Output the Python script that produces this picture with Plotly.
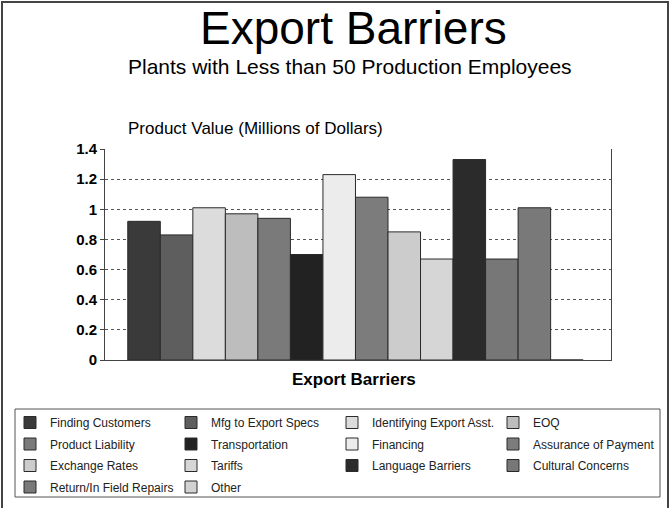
import plotly.graph_objects as go

categories = ["Export Barriers"]
series_names = [
    "Finding Customers", "Mfg to Export Specs", "Identifying Export Asst.", "EOQ",
    "Product Liability", "Transportation", "Financing", "Assurance of Payment",
    "Exchange Rates", "Tariffs", "Language Barriers", "Cultural Concerns",
    "Return/In Field Repairs", "Other",
]
series_values = [0.92, 0.83, 1.01, 0.97, 0.94, 0.70, 1.23, 1.08,
                 0.85, 0.67, 1.33, 0.67, 1.01, 0.0]
series_colors = ["#3a3a3a", "#5e5e5e", "#dcdcdc", "#bdbdbd", "#7a7a7a", "#222222",
                 "#ececec", "#7c7c7c", "#cccccc", "#d6d6d6", "#2b2b2b", "#777777",
                 "#797979", "#d2d2d2"]
y_ticks = [0, 0.2, 0.4, 0.6, 0.8, 1, 1.2, 1.4]
y_tick_labels = ["0", "0.2", "0.4", "0.6", "0.8", "1", "1.2", "1.4"]

FONT = "Liberation Sans, Arial, sans-serif"
W, H = 670, 508
L, R, T, B = 105, 59, 149, 148
pw, ph = W - L - R, H - T - B
N_LEGEND_COLS = 4
LEGEND_COL_X = [10, 171, 332, 493]   # pixel left edge of each legend column
LEGEND_TOP = 408

def px_x(x):
    return (x - L) / pw

def px_y(y):
    return (H - B - y) / ph

def legend_id(k):
    return "legend" if k == 0 else f"legend{k + 1}"

fig = go.Figure()
for i, (name, val, col) in enumerate(zip(series_names, series_values, series_colors)):
    fig.add_trace(go.Bar(
        x=categories, y=[val], name=name,
        legend=legend_id(i % N_LEGEND_COLS), legendgroup=name,
        marker=dict(color=col, line=dict(color="#2a2a2a", width=1)),
    ))

legend_layouts = {}
for k in range(N_LEGEND_COLS):
    legend_layouts[legend_id(k)] = dict(
        orientation="v", x=px_x(LEGEND_COL_X[k]), y=px_y(LEGEND_TOP),
        xanchor="left", yanchor="top",
        bgcolor="rgba(0,0,0,0)", borderwidth=0,
        font=dict(size=12, family=FONT, color="#222222"),
        traceorder="grouped", itemwidth=30, tracegroupgap=2.5,
    )

fig.update_layout(
    width=W, height=H,
    margin=dict(l=L, r=R, t=T, b=B, autoexpand=False),
    paper_bgcolor="white", plot_bgcolor="white",
    barmode="group", bargap=0.1, bargroupgap=0,
    font=dict(family=FONT, color="black"),
    showlegend=True,
    **legend_layouts,
    xaxis=dict(
        range=[-0.495, 0.505], showticklabels=False, ticks="",
        showline=True, linecolor="#444444", linewidth=1, showgrid=False,
        fixedrange=True,
    ),
    yaxis=dict(
        range=[0, 1.4], tickvals=y_ticks, ticktext=y_tick_labels,
        tickfont=dict(size=15, family=FONT, color="black", weight="bold"),
        ticks="outside", ticklen=4, tickcolor="#444444",
        showline=True, linecolor="#444444", linewidth=1, mirror=True,
        showgrid=True, gridcolor="#555555", griddash="dot", gridwidth=1,
        zeroline=False,
    ),
    shapes=[
        dict(type="rect", xref="paper", yref="paper",
             x0=px_x(2), x1=px_x(668), y0=px_y(515), y1=px_y(2),
             line=dict(color="#444444", width=2), fillcolor="rgba(0,0,0,0)", layer="below"),
        dict(type="rect", xref="paper", yref="paper",
             x0=px_x(15), x1=px_x(660), y0=px_y(497), y1=px_y(409),
             line=dict(color="#555555", width=1), fillcolor="rgba(0,0,0,0)", layer="below"),
    ],
    annotations=[
        dict(text="Export Barriers", xref="paper", yref="paper",
             x=px_x(353.5), y=px_y(28), xanchor="center", yanchor="middle",
             showarrow=False, font=dict(size=46, family=FONT, color="black")),
        dict(text="Plants with Less than 50 Production Employees", xref="paper", yref="paper",
             x=px_x(350), y=px_y(66), xanchor="center", yanchor="middle",
             showarrow=False, font=dict(size=21, family=FONT, color="black")),
        dict(text="Product Value (Millions of Dollars)", xref="paper", yref="paper",
             x=px_x(126), y=px_y(128), xanchor="left", yanchor="middle",
             showarrow=False, font=dict(size=17, family=FONT, color="black")),
        dict(text="<b>Export Barriers</b>", xref="paper", yref="paper",
             x=px_x(354), y=px_y(379), xanchor="center", yanchor="middle",
             showarrow=False, font=dict(size=17, family=FONT, color="black")),
    ],
)

fig.write_html("out.html", config={"displayModeBar": False},
               post_script="document.body.style.margin='0';")
